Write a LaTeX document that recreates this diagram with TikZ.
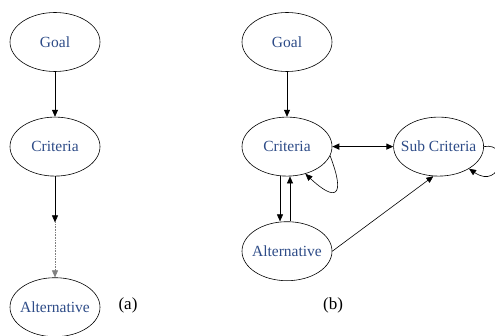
\documentclass[tikz,border=0pt]{standalone}
\usepackage{fontspec}
\setmainfont{Liberation Serif}
\usetikzlibrary{arrows.meta,positioning,shapes.geometric}
\definecolor{labelblue}{RGB}{45,75,135}

\begin{document}
\begin{tikzpicture}[
  x=1pt, y=1pt,
  node distance=45pt and 61pt,
  elem/.style={ellipse, draw, semithick, minimum width=90pt, minimum height=59pt, inner xsep=-10pt, inner ysep=0pt, text=labelblue, font=\fontsize{15.5}{17}\selectfont},
  arrow/.style={-{Triangle[length=7pt,width=6pt]}, semithick},
  dblarrow/.style={{Triangle[length=7pt,width=6pt]}-{Triangle[length=7pt,width=6pt]}, very thick},
  tag/.style={font=\fontsize{17}{19}\selectfont}
]
  \useasboundingbox (0,0) rectangle (495,335);
  % (a)
  \node[elem] (goal-a) at (55,293) {Goal};
  \node[elem, below=of goal-a] (crit-a) {Criteria};
  \node[elem, below=101pt of crit-a] (alt-a) {Alternative};
  \coordinate[below=46pt of crit-a.south] (mid-a);
  \node[tag] (lbl-a) at (128,30) {(a)};
  \draw[arrow] (goal-a) -- (crit-a);
  \draw[arrow] (crit-a) -- (mid-a);
  \draw[arrow, densely dotted, gray] (mid-a) -- (alt-a);
  % (b)
  \node[elem] (goal-b) at (287,293) {Goal};
  \node[elem, below=of goal-b] (crit-b) {Criteria};
  \node[elem, right=of crit-b] (sub) {Sub Criteria};
  \node[elem, below=of crit-b] (alt-b) {Alternative};
  \node[tag] (lbl-b) at (333,30) {(b)};
  \draw[arrow] (goal-b) -- (crit-b);
  \draw[dblarrow] (crit-b) -- (sub);
  \draw[arrow] ([xshift=-7pt]crit-b.south) -- ([xshift=-7pt]alt-b.north);
  \draw[arrow] ([xshift=3pt]alt-b.north) -- ([xshift=3pt]crit-b.south);
  \draw[arrow] (crit-b.-12) .. controls +(16,-42) and +(30,-28) .. (crit-b.-56);
  \draw[arrow] (sub.0) .. controls +(28,5) and +(32,-22) .. (sub.-36);
  \draw[arrow] (alt-b.east) -- (sub.-100);
\end{tikzpicture}
\end{document}
